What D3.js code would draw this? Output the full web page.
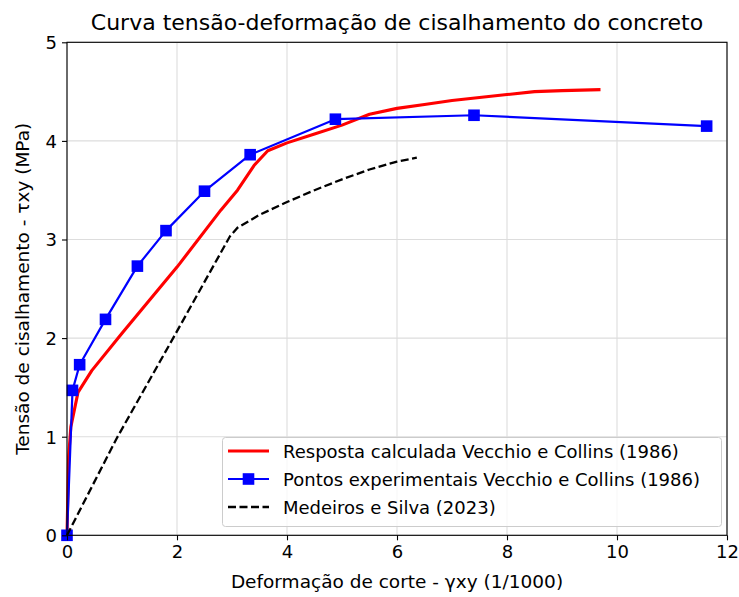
<!DOCTYPE html>
<html><head><meta charset="utf-8">
<script src="https://cdn.jsdelivr.net/npm/d3@7"></script>
<style>body{margin:0;background:#fff}svg{display:block}text{font-family:"DejaVu Sans",sans-serif}</style>
</head><body><svg id="c" width="739" height="597"></svg>
<script>
const xTicks = [0,2,4,6,8,10,12];
const yTicks = [0,1,2,3,4,5];
const redX = [0,0.03,0.07,0.2,0.45,1.0,2.0,2.8,3.1,3.4,3.65,4.0,4.5,5.0,5.5,6.0,6.5,7.0,7.5,8.0,8.5,9.0,9.7];
const redY = [0,0.8,1.1,1.45,1.67,2.05,2.72,3.3,3.5,3.75,3.9,3.98,4.07,4.16,4.27,4.33,4.37,4.41,4.44,4.47,4.5,4.51,4.52];
const blueX = [0,0.1,0.23,0.7,1.28,1.8,2.5,3.33,4.88,7.4,11.63];
const blueY = [0,1.47,1.73,2.19,2.73,3.09,3.49,3.86,4.22,4.26,4.15];
const blackX = [0,0.9,1.93,2.96,3.1,3.5,4.0,4.5,5.0,5.5,6.0,6.36];
const blackY = [0,0.98,2.0,3.03,3.12,3.25,3.38,3.5,3.61,3.71,3.79,3.83];
const labels = ["Resposta calculada Vecchio e Collins (1986)","Pontos experimentais Vecchio e Collins (1986)","Medeiros e Silva (2023)"];

const svg = d3.select("#c");
const L=67,R=727,T=42.3,B=535.3;
const x = d3.scaleLinear().domain([0,12]).range([L,R]);
const y = d3.scaleLinear().domain([0,5]).range([B,T]);

svg.append("g").selectAll("line").data(xTicks).join("line")
  .attr("x1",d=>x(d)).attr("x2",d=>x(d)).attr("y1",T).attr("y2",B)
  .attr("stroke","#dddddd").attr("stroke-width",1.1);
svg.append("g").selectAll("line").data(yTicks).join("line")
  .attr("y1",d=>y(d)).attr("y2",d=>y(d)).attr("x1",L).attr("x2",R)
  .attr("stroke","#dddddd").attr("stroke-width",1.1);

const line = d3.line().x(d=>x(d[0])).y(d=>y(d[1]));
const red = redX.map((v,i)=>[v,redY[i]]);
const blue = blueX.map((v,i)=>[v,blueY[i]]);
const black = blackX.map((v,i)=>[v,blackY[i]]);
const g = svg.append("g");
g.append("path").attr("d",line(red)).attr("fill","none").attr("stroke","#ff0000").attr("stroke-width",3.1).attr("stroke-linejoin","round");
g.append("path").attr("d",line(blue)).attr("fill","none").attr("stroke","#0000ff").attr("stroke-width",2.2).attr("stroke-linejoin","round");
g.selectAll("rect.m").data(blue).join("rect").attr("class","m")
  .attr("x",d=>x(d[0])-5.8).attr("y",d=>y(d[1])-5.8).attr("width",11.6).attr("height",11.6).attr("fill","#0000ff");
g.append("path").attr("d",line(black)).attr("fill","none").attr("stroke","#000").attr("stroke-width",2.3).attr("stroke-dasharray","8,3.5");

const xa = svg.append("g").attr("transform",`translate(0,${B})`).call(d3.axisBottom(x).tickValues(xTicks).tickSize(5).tickPadding(5).tickFormat(d3.format("d")));
const ya = svg.append("g").attr("transform",`translate(${L},0)`).call(d3.axisLeft(y).tickValues(yTicks).tickSize(5).tickPadding(5).tickFormat(d3.format("d")));
[xa,ya].forEach(a=>{a.selectAll("text").attr("font-size",18).attr("fill","#000").attr("font-family","DejaVu Sans");a.select(".domain").remove();a.selectAll("line").attr("stroke","#000").attr("stroke-width",1.1);});
ya.selectAll("text").attr("dy","0.36em");
svg.append("rect").attr("x",L).attr("y",T).attr("width",R-L).attr("height",B-T).attr("fill","none").attr("stroke","#000").attr("stroke-width",1.1);

svg.append("text").attr("x",(L+R)/2).attr("y",30).attr("text-anchor","middle").attr("font-size",22).text("Curva tensão-deformação de cisalhamento do concreto");
svg.append("text").attr("x",(L+R)/2).attr("y",588).attr("text-anchor","middle").attr("font-size",18.5).text("Deformação de corte - γxy (1/1000)");
svg.append("text").attr("transform",`translate(29,${(T+B)/2}) rotate(-90)`).attr("text-anchor","middle").attr("font-size",18.5).text("Tensão de cisalhamento - τxy (MPa)");

const lg = svg.append("g");
lg.append("rect").attr("x",222.5).attr("y",437.5).attr("width",499).attr("height",89).attr("rx",3)
  .attr("fill","#fff").attr("fill-opacity",0.8).attr("stroke","#cccccc").attr("stroke-width",1);
const ly=[451,479,507];
lg.append("line").attr("x1",228).attr("x2",269).attr("y1",ly[0]).attr("y2",ly[0]).attr("stroke","#ff0000").attr("stroke-width",3.1);
lg.append("line").attr("x1",228).attr("x2",269).attr("y1",ly[1]).attr("y2",ly[1]).attr("stroke","#0000ff").attr("stroke-width",2.2);
lg.append("rect").attr("x",242.7).attr("y",ly[1]-5.8).attr("width",11.6).attr("height",11.6).attr("fill","#0000ff");
lg.append("line").attr("x1",228).attr("x2",269).attr("y1",ly[2]).attr("y2",ly[2]).attr("stroke","#000").attr("stroke-width",2.3).attr("stroke-dasharray","8,3.5");
lg.selectAll("text").data(labels).join("text").attr("x",283).attr("y",(d,i)=>ly[i]+6.5).attr("font-size",18).text(d=>d);
</script></body></html>
